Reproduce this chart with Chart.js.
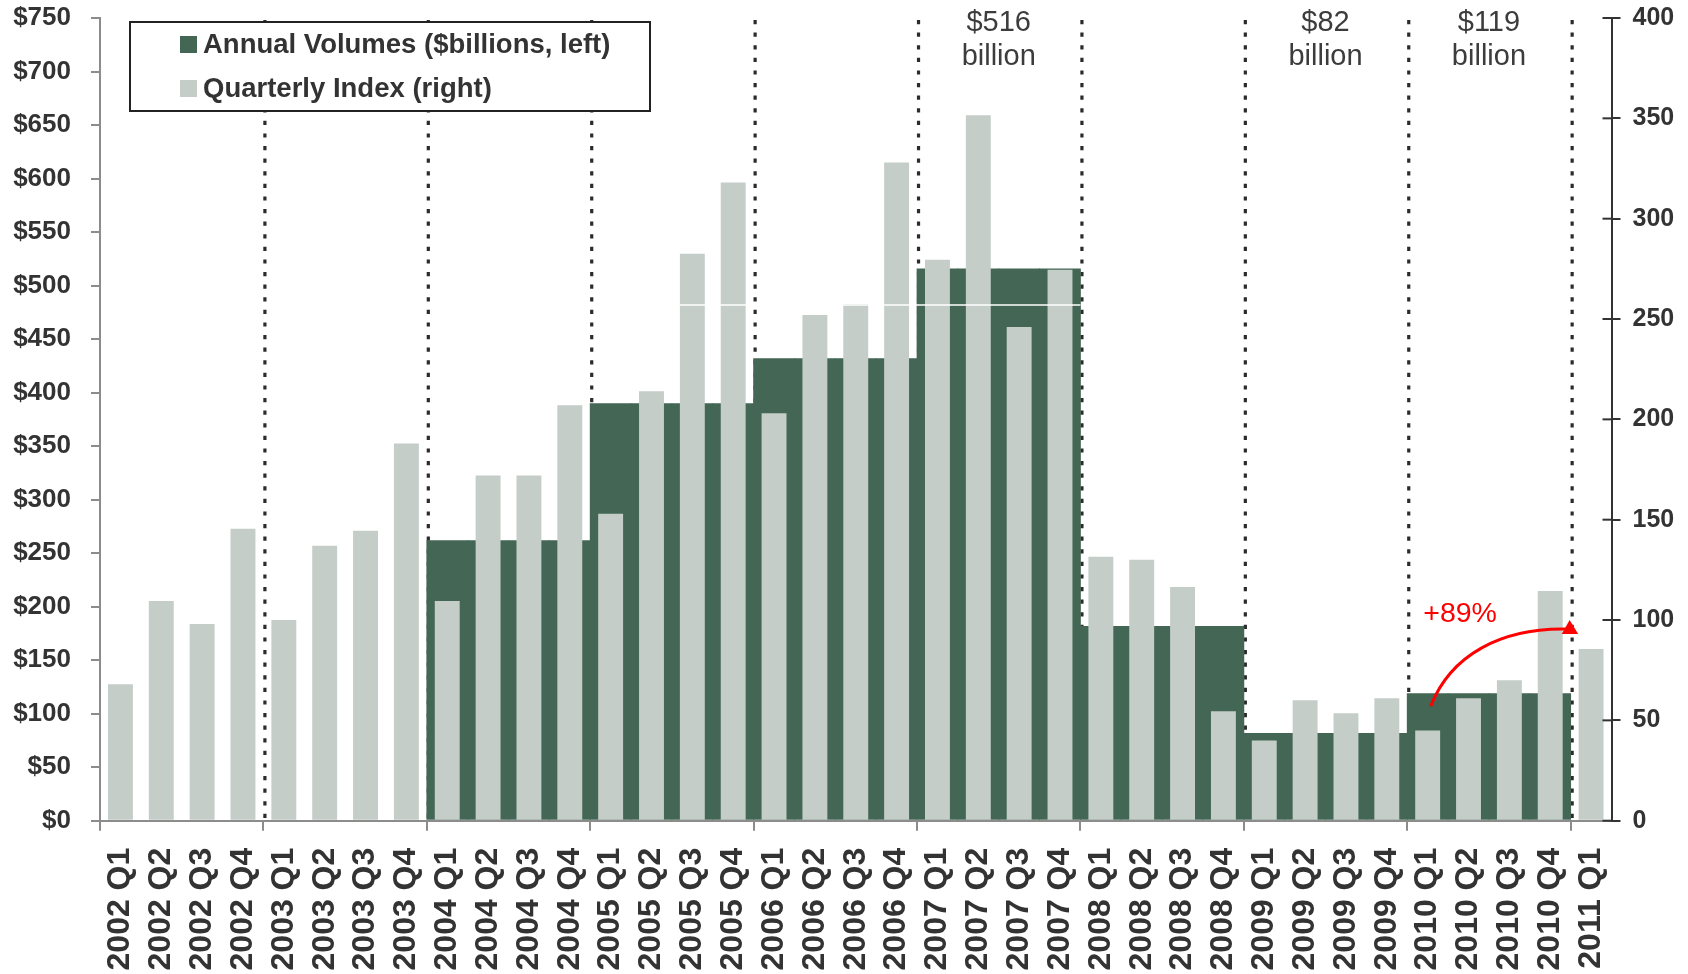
<!DOCTYPE html>
<html>
<head>
<meta charset="utf-8">
<script src="https://cdn.jsdelivr.net/npm/chart.js@4.4.1/dist/chart.umd.min.js"></script>
<style>
  html, body { margin: 0; padding: 0; background: #ffffff; }
  #wrap { width: 1688px; height: 974px; }
</style>
</head>
<body>
<div id="wrap"><canvas id="volumeChart" width="1688" height="974"></canvas></div>
<script>
// Years and quarters on the category axis
const years = [2002, 2003, 2004, 2005, 2006, 2007, 2008, 2009, 2010, 2011];
const quarters = ["Q1", "Q2", "Q3", "Q4"];
const lastQuarterCount = 1; // 2011 only has Q1

// Annual volumes in $ billions (left axis), one value per year
const annualVolumes = [null, null, 262, 390, 432, 516, 182, 82, 119, null];

// Quarterly index (right axis), one value per quarter
const quarterlyIndex = [
    68, 109.5, 98, 145.5,
    100, 137, 144.5, 188,
    109.5, 172, 172, 207,
    153, 214, 282.5, 318,
    203, 252, 257.5, 328,
    279.5, 351.5, 246, 274.5,
    131.5, 130, 116.5, 54.5,
    40, 60, 53.5, 61,
    45, 61, 70, 114.5,
    85.5
];

// Callouts above the year blocks
const yearCallouts = [
    { year: 2007, lines: ["$516", "billion"] },
    { year: 2009, lines: ["$82", "billion"] },
    { year: 2010, lines: ["$119", "billion"] }
];
const growthLabel = "+89%";

const DARK = "#436655";
const LIGHT = "#c4cdc8";
const AXIS_GRAY = "#8c8c8c";
const TEXT = "#333333";
const FONT = "'Liberation Sans', Arial, sans-serif";
const PLOT_TOP = 18;

// Build quarter labels and spread each annual volume over its quarters
const labels = [];
const annualByQuarter = [];
years.forEach((y, i) => {
    const n = (i === years.length - 1) ? lastQuarterCount : 4;
    for (let q = 0; q < n; q++) {
        labels.push(y + " " + quarters[q]);
        annualByQuarter.push(annualVolumes[i]);
    }
});

// Extra drawing: dotted year dividers, legend box, callouts, growth arrow
const overlayPlugin = {
    id: "overlay",
    beforeDatasetsDraw(chart) {
        const ctx = chart.ctx;
        const x = chart.scales.x;
        const area = chart.chartArea;
        const half = (x.getPixelForValue(1) - x.getPixelForValue(0)) / 2;
        ctx.save();
        ctx.strokeStyle = "#2b2b2b";
        ctx.lineWidth = 3.2;
        ctx.setLineDash([4.2, 8.4]);
        for (let i = 4; i < labels.length; i += 4) {
            const px = x.getPixelForValue(i) - half + 1.5;
            ctx.beginPath();
            ctx.moveTo(px, area.top + 2);
            ctx.lineTo(px, area.bottom);
            ctx.stroke();
        }
        ctx.restore();
    },
    afterDatasetsDraw(chart) {
        const ctx = chart.ctx;
        const x = chart.scales.x;
        const yL = chart.scales.yLeft;
        const yR = chart.scales.yRight;
        const area = chart.chartArea;
        const step = x.getPixelForValue(1) - x.getPixelForValue(0);
        const half = step / 2;
        const bar = quarterIndex => x.getPixelForValue(quarterIndex);

        ctx.save();

        // thin white rule across the 2005-2007 peak
        ctx.strokeStyle = "#ffffff";
        ctx.lineWidth = 1.5;
        ctx.beginPath();
        ctx.moveTo(bar(14) - step * 0.305, yR.getPixelForValue(257));
        ctx.lineTo(bar(23) + half, yR.getPixelForValue(257));
        ctx.stroke();

        // inner halves of the right axis ticks
        ctx.strokeStyle = "#333333";
        ctx.lineWidth = 2;
        for (let v = 0; v <= 400; v += 50) {
            const py = yR.getPixelForValue(v);
            ctx.beginPath();
            ctx.moveTo(area.right - 9, py);
            ctx.lineTo(area.right, py);
            ctx.stroke();
        }

        // legend box
        ctx.fillStyle = "#ffffff";
        ctx.fillRect(130, 22, 520, 89);
        ctx.strokeStyle = "#222222";
        ctx.lineWidth = 2;
        ctx.strokeRect(130, 22, 520, 89);
        const entries = [
            { color: DARK, text: chart.data.datasets[0].label, y: 44.5 },
            { color: LIGHT, text: chart.data.datasets[1].label, y: 88.5 }
        ];
        ctx.font = "bold 27.5px " + FONT;
        ctx.textBaseline = "middle";
        ctx.textAlign = "left";
        entries.forEach(e => {
            ctx.fillStyle = e.color;
            ctx.fillRect(180, e.y - 8.5, 17, 17);
            ctx.fillStyle = TEXT;
            ctx.fillText(e.text, 203, e.y + 1);
        });

        // year callouts
        ctx.font = "29px " + FONT;
        ctx.fillStyle = "#3c3c3c";
        ctx.textAlign = "center";
        ctx.textBaseline = "alphabetic";
        yearCallouts.forEach(c => {
            const first = labels.indexOf(c.year + " Q1");
            const cx = (bar(first) + bar(first + 3)) / 2;
            ctx.fillText(c.lines[0], cx, 31);
            ctx.fillText(c.lines[1], cx, 65);
        });

        // growth arrow across 2010
        const q1 = labels.indexOf("2010 Q1");
        const x0 = bar(q1) + 3;
        const y0 = yL.getPixelForValue(107);
        const x3 = bar(q1 + 3) + half - 5;
        const y3 = yR.getPixelForValue(95.5);
        ctx.strokeStyle = "#ff0000";
        ctx.fillStyle = "#ff0000";
        ctx.lineWidth = 3;
        ctx.beginPath();
        ctx.moveTo(x0, y0);
        ctx.bezierCurveTo(x0 + 20, y0 - 51, x0 + 70, y3 - 1, x3, y3);
        ctx.stroke();
        ctx.beginPath();
        ctx.moveTo(x3 - 4, y3 + 5);
        ctx.lineTo(x3 + 12.5, y3 + 5);
        ctx.lineTo(x3 + 4, y3 - 9);
        ctx.closePath();
        ctx.fill();

        ctx.font = "28.5px " + FONT;
        ctx.textAlign = "left";
        ctx.fillText(growthLabel, bar(q1) - half + 16, yR.getPixelForValue(99));

        ctx.restore();
    }
};

new Chart(document.getElementById("volumeChart"), {
    type: "bar",
    data: {
        labels: labels,
        datasets: [
            {
                label: "Annual Volumes ($billions, left)",
                data: annualByQuarter,
                yAxisID: "yLeft",
                backgroundColor: DARK,
                borderWidth: 0,
                grouped: false,
                categoryPercentage: 1,
                barPercentage: 1.02,
                order: 2
            },
            {
                label: "Quarterly Index (right)",
                data: quarterlyIndex,
                yAxisID: "yRight",
                backgroundColor: LIGHT,
                borderWidth: 0,
                grouped: false,
                categoryPercentage: 1,
                barPercentage: 0.61,
                order: 1
            }
        ]
    },
    options: {
        responsive: false,
        animation: false,
        devicePixelRatio: 1,
        layout: { padding: 0 },
        plugins: {
            legend: { display: false },
            tooltip: { enabled: false }
        },
        scales: {
            x: {
                grid: {
                    drawOnChartArea: false,
                    offset: true,
                    tickLength: 10,
                    lineWidth: 2,
                    color: c => (c.index % 4 === 0 ? AXIS_GRAY : "rgba(0,0,0,0)")
                },
                border: { color: AXIS_GRAY, width: 2 },
                ticks: {
                    autoSkip: false,
                    minRotation: 90,
                    maxRotation: 90,
                    padding: 17,
                    color: TEXT,
                    font: { family: FONT, size: 32, weight: "bold" }
                },
                afterFit: s => { s.height = 153.3; s.paddingLeft = 0; s.paddingRight = 0; }
            },
            yLeft: {
                position: "left",
                min: 0,
                max: 750,
                grid: { drawOnChartArea: false, tickLength: 9, lineWidth: 2, color: AXIS_GRAY },
                border: { color: AXIS_GRAY, width: 2 },
                ticks: {
                    stepSize: 50,
                    padding: 20,
                    color: TEXT,
                    font: { family: FONT, size: 26, weight: "bold" },
                    callback: v => "$" + v
                },
                afterFit: s => { s.width = 100; s.paddingTop = PLOT_TOP; s.paddingBottom = 0; }
            },
            yRight: {
                position: "right",
                min: 0,
                max: 400,
                grid: { drawOnChartArea: false, tickLength: 9, lineWidth: 2, color: "#333333" },
                border: { color: "#333333", width: 2 },
                ticks: {
                    stepSize: 50,
                    padding: 12,
                    color: TEXT,
                    font: { family: FONT, size: 25, weight: "bold" }
                },
                afterFit: s => { s.width = 76.5; s.paddingTop = PLOT_TOP; s.paddingBottom = 0; }
            }
        }
    },
    plugins: [overlayPlugin]
});
</script>
</body>
</html>
